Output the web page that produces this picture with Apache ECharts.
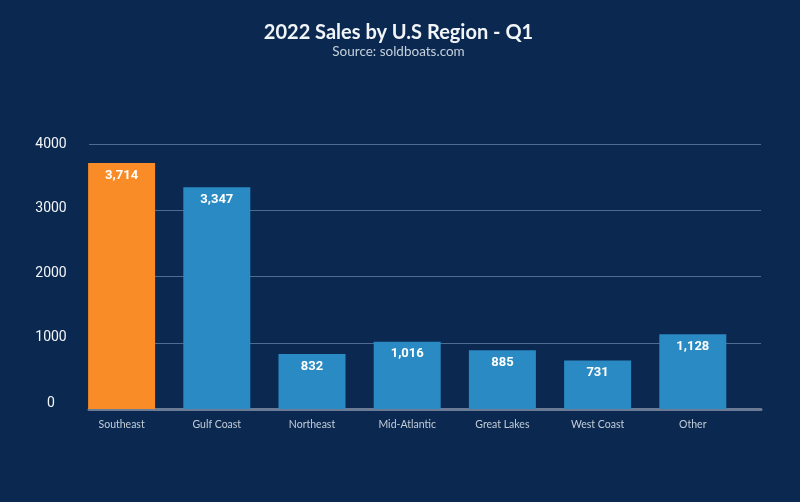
<!DOCTYPE html>
<html>
<head>
<meta charset="utf-8">
<style>
  html, body { margin: 0; padding: 0; background: #0b2950; }
  #chart { width: 800px; height: 502px; }
</style>
</head>
<body>
<div id="chart"></div>
<script src="https://cdn.jsdelivr.net/npm/echarts@6/dist/echarts.min.js"></script>
<script>
const regions = ['Southeast', 'Gulf Coast', 'Northeast', 'Mid-Atlantic', 'Great Lakes', 'West Coast', 'Other']
const sales = [3714, 3347, 832, 1016, 885, 731, 1128]
const highlighted = 'Southeast'
const yMax = 4000
const yStep = 1000

const numberFont = 'Roboto'
const chart = echarts.init(document.getElementById('chart'))

// bars and gridlines share one y scale, but the lines run wider than the bars
const grids = [
  { left: 74, width: 666.4, top: 144, bottom: 93 },
  { left: 89, right: 39, top: 144, bottom: 93 }
]

// the lower labels sit a little above their lines
const liftStyle = function (bottom) {
  return { color: '#f2f5f8', fontFamily: numberFont, fontSize: 14, padding: [0, 0, bottom, 0] }
}

chart.setOption({
  backgroundColor: '#0b2950',
  animation: false,
  title: {
    left: 393.5,
    top: 18,
    textAlign: 'center',
    text: '2022 Sales by U.S Region - Q1',
    itemGap: 2,
    textStyle: { color: '#f2f5f8', fontFamily: 'Lato', fontSize: 20, fontWeight: 'bold' },
    subtext: 'Source: soldboats.com',
    subtextStyle: { color: '#c6d0dc', fontFamily: 'Lato', fontSize: 13.5 }
  },
  grid: grids,
  xAxis: [
    {
      gridIndex: 0,
      type: 'category',
      data: regions,
      axisLine: { show: false },
      axisTick: { show: false },
      axisLabel: { color: '#c3cdd9', fontFamily: 'Lato', fontSize: 10.5, margin: 10 }
    },
    {
      gridIndex: 1,
      type: 'value',
      min: 0,
      max: 1,
      axisLabel: { show: false },
      axisTick: { show: false },
      splitLine: { show: false },
      axisLine: { lineStyle: { color: '#6b7b96', width: 3 } }
    }
  ],
  yAxis: [
    { gridIndex: 0, type: 'value', min: 0, max: yMax, show: false },
    {
      gridIndex: 1,
      type: 'value',
      min: 0,
      max: yMax,
      interval: yStep,
      axisLine: { show: false },
      axisTick: { show: false },
      splitLine: { showMinLine: false, lineStyle: { color: '#4c6c90', width: 1 } },
      axisLabel: {
        color: '#f2f5f8',
        fontFamily: numberFont,
        fontSize: 14,
        align: 'center',
        margin: 38,
        formatter: function (value) {
          return '{v' + value + '|' + value + '}'
        },
        rich: {
          v0: liftStyle(12),
          v1000: liftStyle(10),
          v2000: liftStyle(6),
          v3000: liftStyle(4),
          v4000: liftStyle(0)
        }
      }
    }
  ],
  series: [
    {
      type: 'bar',
      xAxisIndex: 0,
      yAxisIndex: 0,
      barWidth: 67,
      z: 3,
      data: sales.map(function (value, i) {
        return {
          value: value,
          itemStyle: { color: regions[i] === highlighted ? '#f98c26' : '#2a8ac3' }
        }
      }),
      label: {
        show: true,
        position: 'insideTop',
        distance: 6,
        color: '#ffffff',
        fontFamily: numberFont,
        fontSize: 13,
        fontWeight: 'bold',
        formatter: function (p) {
          return p.value.toLocaleString('en-US')
        }
      }
    }
  ]
})
</script>
</body>
</html>
